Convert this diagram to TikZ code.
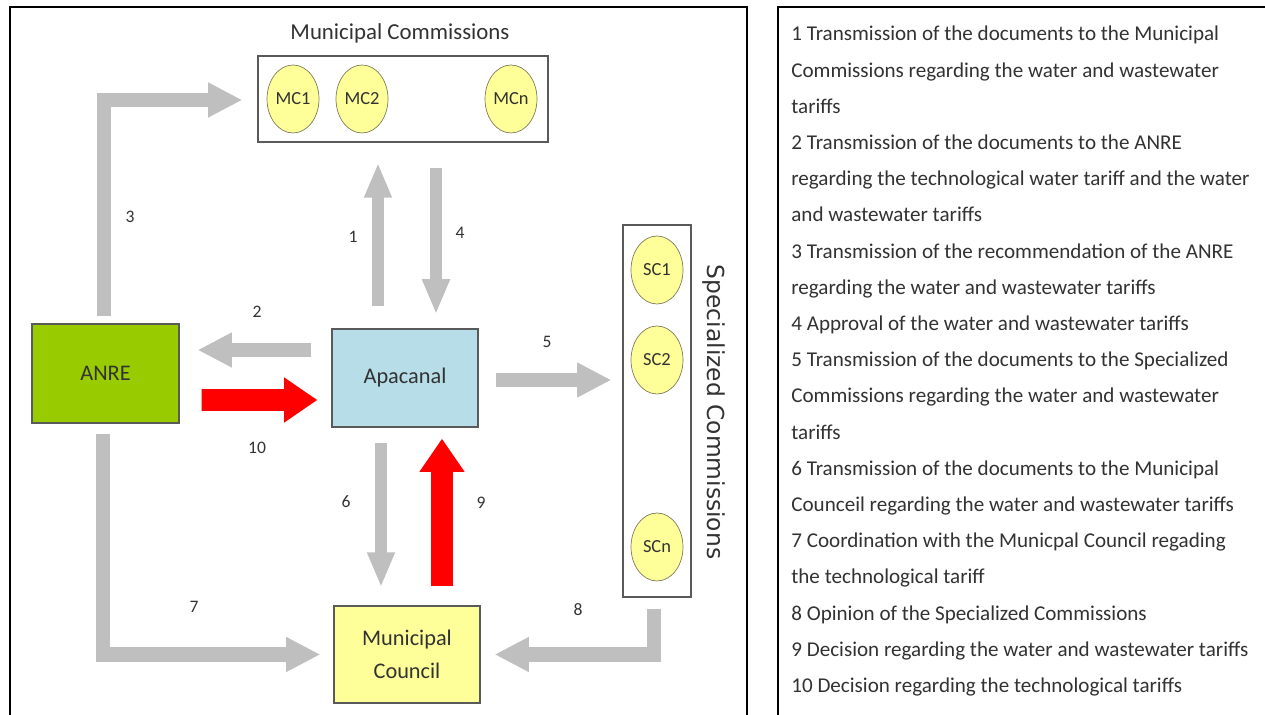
\documentclass[tikz,border=0pt]{standalone}
\usepackage{fontspec}
\setmainfont{Carlito}
\newfontfamily\vertfont{DejaVu Sans}
\usetikzlibrary{arrows.meta, positioning, shapes.geometric, calc}

\definecolor{arrowgray}{RGB}{191,191,191}
\definecolor{anregreen}{RGB}{153,204,0}
\definecolor{apablue}{RGB}{183,222,232}
\definecolor{paleyellow}{RGB}{255,255,153}
\definecolor{circline}{RGB}{125,125,90}
\definecolor{boxline}{RGB}{90,90,90}
\definecolor{textgray}{RGB}{50,50,50}

\begin{document}
\begin{tikzpicture}[x=0.02cm, y=-0.02cm,
    box/.style={draw=boxline, line width=0.7pt, inner sep=0pt, text=textgray,
        font=\fontsize{12.7}{15}\selectfont},
    member/.style={ellipse, draw=circline, fill=paleyellow, inner sep=0pt,
        minimum width=1.04cm, minimum height=1.36cm, text=textgray,
        font=\fontsize{10.5}{12}\selectfont},
    grayflow/.style={draw=arrowgray, line width=8.5pt, line join=miter,
        -{Triangle[length=19.5pt, width=18.5pt]}},
    thinflow/.style={draw=arrowgray, line width=6.8pt,
        -{Triangle[length=20pt, width=14.5pt]}},
    redflow/.style={draw=red, line width=12.5pt,
        -{Triangle[length=19pt, width=24.5pt]}},
    num/.style={text=textgray, font=\fontsize{10}{12}\selectfont},
    legend/.style={text=textgray, inner sep=0pt, anchor=base west,
        font=\fontsize{12}{14}\selectfont},
    frame/.style={line width=1.5pt}]
    \useasboundingbox (0,0) rectangle (1265,715);

    % Frames
    \draw[frame] (10,715) -- (10,7) -- (747,7) -- (747,715);
    \draw[frame] (778,715) -- (778,7) -- (1265,7);

    % Municipal Commissions
    \node[text=textgray, font=\fontsize{13}{15}\selectfont] (mctitle) at (400,33) {Municipal Commissions};
    \node[box, minimum width=5.8cm, minimum height=1.72cm] (mcbox) at (403,99) {};
    \node[member] (mc1) at (293,99) {MC1};
    \node[member] (mc2) at (362,99) {MC2};
    \node[member] (mcn) at (511,99) {MCn};

    % Main boxes
    \node[box, fill=anregreen, minimum width=2.94cm, minimum height=1.98cm] (anre) at (105.5,373.5) {ANRE};
    \node[box, fill=apablue, minimum width=2.92cm, minimum height=1.96cm] (apa) at (405,378) {Apacanal};
    \node[box, fill=paleyellow, minimum width=2.92cm, minimum height=1.94cm, align=center] (council) at (407,654.5) {Municipal\\[4pt]Council};

    % Specialized Commissions
    \node[box, minimum width=1.36cm, minimum height=7.44cm] (scbox) at (657,411) {};
    \node[member] (sc1) at (657,270) {SC1};
    \node[member] (sc2) at (657,360) {SC2};
    \node[member] (scn) at (657,547) {SCn};
    \node[rotate=-90, text=textgray, font=\vertfont\fontsize{13.3}{15}\selectfont] (sctitle) at (714,412) {Specialized Commissions};

    % Gray flows
    \draw[thinflow] ($(apa.north)+(-27,-22)$) -- ($(mcbox.south)+(-25,20)$);
    \draw[grayflow] ($(apa.west)+(-20,-28)$) -- ($(anre.east)+(18,-23.5)$);
    \draw[grayflow] ($(anre.north)+(-1.5,-7)$) |- ($(mcbox.west)+(-15,1)$);
    \draw[thinflow] ($(mcbox.south)+(33,25)$) -- ($(apa.north)+(31,-14)$);
    \draw[grayflow] ($(apa.east)+(17,2)$) -- ($(scbox.west)+(-11,-31)$);
    \draw[thinflow] ($(apa.south)+(-24,15)$) -- ($(council.north)+(-26,-18)$);
    \draw[grayflow] ($(anre.south)+(-2.5,10)$) |- ($(council.west)+(-13,0)$);
    \draw[grayflow] ($(scbox.south)+(-3,11)$) |- ($(council.east)+(14,0)$);

    % Red flows
    \draw[redflow] ($(council.north)+(35,-19)$) -- ($(apa.south)+(37,11)$);
    \draw[redflow] ($(anre.east)+(22,26.5)$) -- ($(apa.west)+(-14,22)$);

    % Numbers
    \node[num] (n1) at (353,237) {1};
    \node[num] (n2) at (257,312) {2};
    \node[num] (n3) at (130,217) {3};
    \node[num] (n4) at (460,233) {4};
    \node[num] (n5) at (547,342) {5};
    \node[num] (n6) at (346,502) {6};
    \node[num] (n7) at (194,607) {7};
    \node[num] (n8) at (578,610) {8};
    \node[num] (n9) at (481,503) {9};
    \node[num] (n10) at (257,448) {10};

    % Legend
    \foreach \ln [count=\i] in {
        1 Transmission of the documents to the Municipal,
        Commissions regarding the water and wastewater,
        tariffs,
        2 Transmission of the documents to the ANRE,
        regarding the technological water tariff and the water,
        and wastewater tariffs,
        3 Transmission of the recommendation of the ANRE,
        regarding the water and wastewater tariffs,
        4 Approval of the water and wastewater tariffs,
        5 Transmission of the documents to the Specialized,
        Commissions regarding the water and wastewater,
        tariffs,
        6 Transmission of the documents to the Municipal,
        Counceil regarding the water and wastewater tariffs,
        7 Coordination with the Municpal Council regading,
        the technological tariff,
        8 Opinion of the Specialized Commissions,
        9 Decision regarding the water and wastewater tariffs,
        10 Decision regarding the technological tariffs}
        \node[legend] (line\i) at (791, {41+36.2*(\i-1)}) {\ln};
\end{tikzpicture}
\end{document}
